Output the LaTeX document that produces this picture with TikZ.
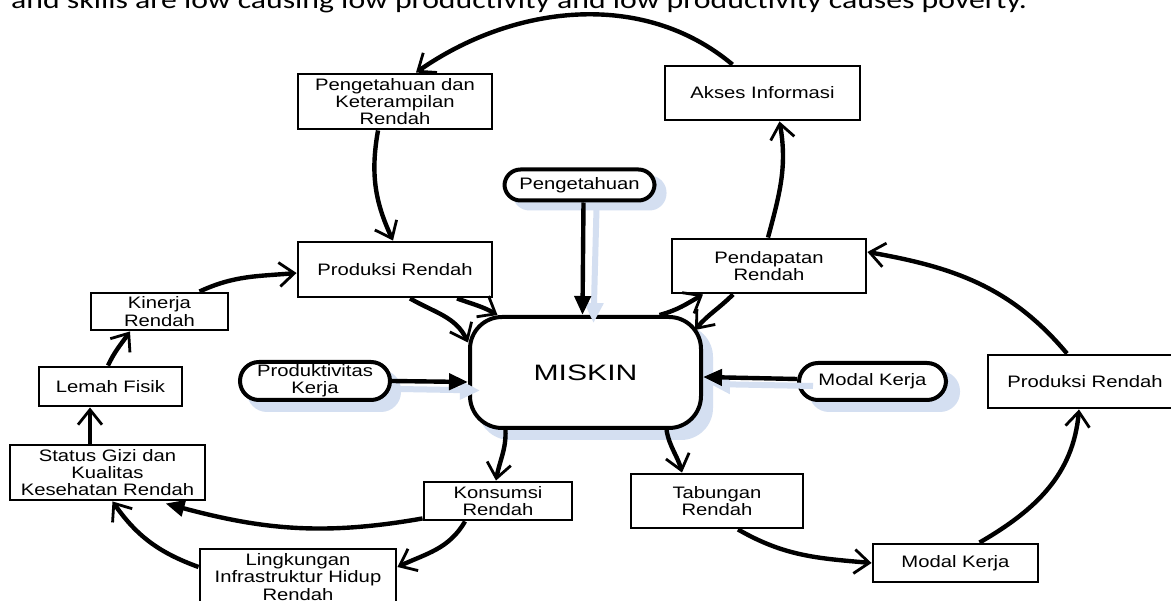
\documentclass[tikz,border=0pt]{standalone}
\usepackage{fontspec}
\setmainfont{Liberation Sans}[FakeStretch=1.22]
\newfontfamily\bigfont{Liberation Sans}[FakeStretch=1.35]
\newfontfamily\calfont{Carlito}[FakeStretch=1.24]
\usetikzlibrary{arrows.meta,backgrounds}
\definecolor{shadowblue}{RGB}{212,223,241}
\begin{document}
\begin{tikzpicture}[x=1pt,y=-1pt,
  box/.style={draw, line width=2.9pt, fill=white, inner sep=0pt, align=center,
    font=\fontsize{16.6}{17.4}\selectfont},
  pill/.style={draw, line width=4pt, fill=white, inner sep=0pt, align=center,
    rounded corners=#1, font=\fontsize{16.6}{17.4}\selectfont},
  bigbox/.style={draw, line width=4pt, fill=white, inner sep=0pt, rounded corners=32pt,
    font=\bigfont\fontsize{22.3}{24}\selectfont},
  conn/.style={line width=4.4pt, -{Straight Barb[length=15pt,width=24pt,line width=2.8pt]}},
  fconn/.style={line width=4.4pt, -{Triangle[length=19pt,width=16pt]}},
  sconn/.style={draw=shadowblue, line width=6pt, -{Triangle[length=20pt,width=18pt,fill=shadowblue]}},
  sfill/.style={fill=shadowblue, rounded corners=#1},
]
\useasboundingbox (0,0) rectangle (1171,601);

\node[font=\calfont\fontsize{25.6}{26}\selectfont, anchor=base west, inner sep=0pt] (toptext) at (11,8.5)
  {and skills are low causing low productivity and low productivity causes poverty.};

% nodes
\node[box, minimum width=194, minimum height=55] (pkr) at (395,101.5) {Pengetahuan dan\\Keterampilan\\Rendah};
\node[box, minimum width=195, minimum height=54] (akses) at (762.5,93) {Akses Informasi};
\node[box, minimum width=194, minimum height=54] (pend) at (769,266) {Pendapatan\\Rendah};
\node[pill=16pt, minimum width=150, minimum height=31] (peng) at (579.5,185) {Pengetahuan};
\node[box, minimum width=194, minimum height=55] (prodL) at (395,269.5) {Produksi Rendah};
\node[box, minimum width=137, minimum height=37] (kin) at (159.5,311.5) {Kinerja\\Rendah};
\node[box, minimum width=143, minimum height=39] (lemah) at (110.5,386.5) {Lemah Fisik};
\node[pill=19pt, minimum width=150, minimum height=38] (prodk) at (315,381) {Produktivitas\\Kerja};
\node[bigbox, minimum width=231, minimum height=111] (miskin) at (585.5,372.5) {MISKIN};
\node[pill=19pt, minimum width=147, minimum height=37] (modk) at (872.5,381.5) {Modal Kerja};
\node[box, minimum width=194, minimum height=53] (prodR) at (1085,381.5) {Produksi Rendah};
\node[box, minimum width=195, minimum height=55] (status) at (107.5,472.5) {Status Gizi dan\\Kualitas\\Kesehatan Rendah};
\node[box, minimum width=148, minimum height=38] (kons) at (498,501) {Konsumsi\\Rendah};
\node[box, minimum width=196, minimum height=56] (ling) at (298,577) {Lingkungan\\Infrastruktur Hidup\\Rendah};
\node[box, minimum width=172, minimum height=54] (tab) at (717,501) {Tabungan\\Rendah};
\node[box, minimum width=165, minimum height=38] (modb) at (955.5,563) {Modal Kerja};

% background and shadows behind nodes
\begin{scope}[on background layer]
\fill[white] (0,0) rectangle (1171,601);
\fill[sfill=32pt] ([xshift=10pt,yshift=-10pt]miskin.north west) rectangle ([xshift=10pt,yshift=-10pt]miskin.south east);
\fill[sfill=17pt] ([xshift=10pt,yshift=-8pt]peng.north west) rectangle ([xshift=10pt,yshift=-8pt]peng.south east);
\fill[sfill=20pt] ([xshift=9pt,yshift=-10pt]prodk.north west) rectangle ([xshift=9pt,yshift=-10pt]prodk.south east);
\fill[sfill=20pt] ([xshift=12pt,yshift=-10pt]modk.north west) rectangle ([xshift=12pt,yshift=-10pt]modk.south east);
\end{scope}

% shadows of arrows into MISKIN
\draw[sconn] ([xshift=17pt,yshift=-6pt]peng.south) -- ([xshift=8pt,yshift=-8pt]miskin.north);
\draw[sconn] ([xshift=8pt,yshift=-8pt]prodk.east) -- ([xshift=12pt,yshift=-18pt]miskin.west);
\draw[sconn] ([xshift=16pt,yshift=-4.5pt]modk.west) -- ([xshift=7pt,yshift=-11.5pt]miskin.east);

% connectors
\draw[conn] ([xshift=-30pt]akses.north) to[out=140,in=35,looseness=0.95] ([xshift=21pt]pkr.north);
\draw[conn] ([xshift=-17pt]pkr.south) to[out=260,in=115] ([xshift=-2pt]prodL.north);
\draw[conn] ([xshift=15pt]prodL.south) to[out=-30,in=115] ([yshift=30pt]miskin.west);
\draw[conn] ([xshift=62pt]prodL.south) to[out=-20,in=150] ([xshift=-88pt]miskin.north);
\draw[fconn] ([xshift=4pt]peng.south) -- ([xshift=-3pt]miskin.north);
\draw[conn] ([xshift=74pt]miskin.north) to[out=15,in=210] ([xshift=-66pt]pend.south);
\draw[conn] ([xshift=-36pt]pend.south) to[out=225,in=50] ([xshift=-8pt,yshift=-15pt]miskin.north east);
\draw[conn] ([xshift=-1pt]pend.north) to[out=75,in=280] ([xshift=17pt]akses.south);
\draw[conn] ([xshift=-18pt]prodR.north) to[out=130,in=-10] ([yshift=14pt]pend.east);
\draw[conn] ([xshift=24pt]modb.north) to[out=30,in=265] ([xshift=-6pt]prodR.south);
\draw[conn] ([xshift=21pt]tab.south) to[out=-30,in=175] (modb.west);
\draw[conn] ([xshift=-80pt]miskin.south) to[out=-88,in=80] ([xshift=-2pt]kons.north);
\draw[conn] ([xshift=81pt]miskin.south) to[out=-80,in=105] ([xshift=-35pt]tab.north);
\draw[fconn] ([yshift=3pt]kons.south west) to[out=190,in=-15] ([xshift=58pt,yshift=-2pt]status.south);
\draw[conn] ([xshift=-33pt]kons.south) to[out=240,in=25] ([yshift=10pt]ling.east);
\draw[conn] ([yshift=10pt]ling.west) to[out=160,in=-55] ([xshift=5pt]status.south);
\draw[conn] ([xshift=-17.5pt]status.north) -- ([xshift=-20.5pt]lemah.south);
\draw[conn] ([xshift=-2.5pt]lemah.north) to[out=65,in=235] ([xshift=-29.5pt]kin.south);
\draw[conn] ([xshift=40pt]kin.north) to[out=25,in=185] ([yshift=-3.5pt]prodL.west);
\draw[fconn] (prodk.east) -- ([yshift=-9.5pt]miskin.west);
\draw[fconn] ([yshift=2.5pt]modk.west) -- ([yshift=-4.5pt]miskin.east);
\end{tikzpicture}
\end{document}
